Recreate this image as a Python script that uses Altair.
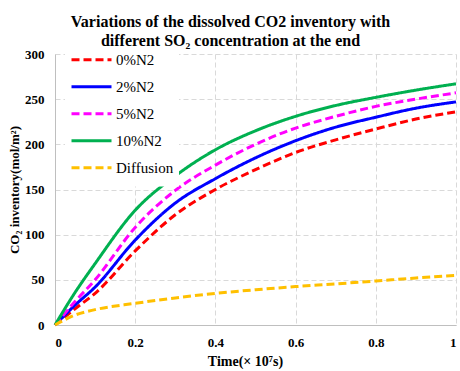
import altair as alt
import pandas as pd

# Time axis (x 10^7 s) and dissolved CO2 inventory (mol/m^2) per case
time = [0, 0.05, 0.1, 0.2, 0.3, 0.4, 0.5, 0.6, 0.7, 0.8, 0.9, 1.0]
n2_0 = [0, 18, 35, 82, 122, 150, 172, 191, 205, 217, 228, 236]
n2_2 = [0, 22, 42, 94, 135, 162, 185, 204, 219, 230, 240, 247]
n2_5 = [0, 26, 50, 108, 149, 177, 200, 218, 231, 242, 250, 257]
n2_10 = [0, 36, 68, 127, 165, 194, 215, 231, 243, 252, 260, 267]
diffusion = [0, 11, 17, 24, 30, 35, 39, 42.5, 45.5, 48.7, 52, 55]

series = ["0%N2", "2%N2", "5%N2", "10%N2", "Diffusion"]
colors = ["#FF0000", "#0000FF", "#FF00FF", "#00B050", "#FFC000"]
dashes = [[8, 4], [1, 0], [8, 4], [1, 0], [8, 4]]

rows = []
for name, vals in zip(series, [n2_0, n2_2, n2_5, n2_10, diffusion]):
    for t, v in zip(time, vals):
        rows.append({"series": name, "time": t, "inventory": v})
df = pd.DataFrame(rows)

serif = "Liberation Serif"

legend = alt.Legend(
    title=None,
    orient="none",
    legendX=10,
    legendY=-12.5,
    padding=5,
    fillColor="white",
    symbolType="stroke",
    symbolSize=1600,
    symbolStrokeWidth=3,
    clipHeight=26.6,
    labelFont=serif,
    labelFontSize=15,
    labelColor="black",
    labelOffset=3,
    rowPadding=0,
)

chart = (
    alt.Chart(df)
    .mark_line(interpolate="monotone", strokeWidth=3)
    .encode(
        x=alt.X(
            "time:Q",
            scale=alt.Scale(domain=[0, 1], nice=False),
            axis=alt.Axis(
                values=[0, 0.2, 0.4, 0.6, 0.8, 1],
                format="~g",
                title="Time(× 10⁷s)",
                titleX=190,
                titleY=40,
                titleFontSize=14,
                titleBaseline="alphabetic",
            ),
        ),
        y=alt.Y(
            "inventory:Q",
            scale=alt.Scale(domain=[0, 300], nice=False),
            axis=alt.Axis(
                values=[0, 50, 100, 150, 200, 250, 300],
                title="CO₂ inventory(mol/m²)",
                titlePadding=3,
            ),
        ),
        color=alt.Color(
            "series:N",
            sort=series,
            scale=alt.Scale(domain=series, range=colors),
            legend=legend,
        ),
        strokeDash=alt.StrokeDash(
            "series:N",
            sort=series,
            scale=alt.Scale(domain=series, range=dashes),
            legend=legend,
        ),
        order=alt.Order("time:Q"),
    )
    .properties(
        width=401,
        height=271,
        title=alt.TitleParams(
            text=[
                "Variations of the dissolved CO2 inventory with",
                "different SO₂ concentration at the end",
            ],
            font=serif,
            fontSize=16,
            fontWeight="bold",
            color="black",
            anchor="middle",
            dx=-25,
            dy=17,
            offset=10,
            lineHeight=19,
        ),
        autosize=alt.AutoSizeParams(type="none"),
        padding={"left": 55, "top": 54, "right": 4, "bottom": 46},
    )
    .configure_view(stroke=None)
    .configure_axis(
        labelFont=serif,
        labelFontSize=13,
        labelFontWeight="bold",
        labelColor="black",
        titleFont=serif,
        titleFontSize=13,
        titleFontWeight="bold",
        titleColor="black",
        ticks=False,
        labelPadding=11,
        domainColor="#BFBFBF",
        gridColor="#D9D9D9",
        gridDash=[5, 3],
    )
)

chart.save("out.html", embed_options={"renderer": "svg", "actions": False})
